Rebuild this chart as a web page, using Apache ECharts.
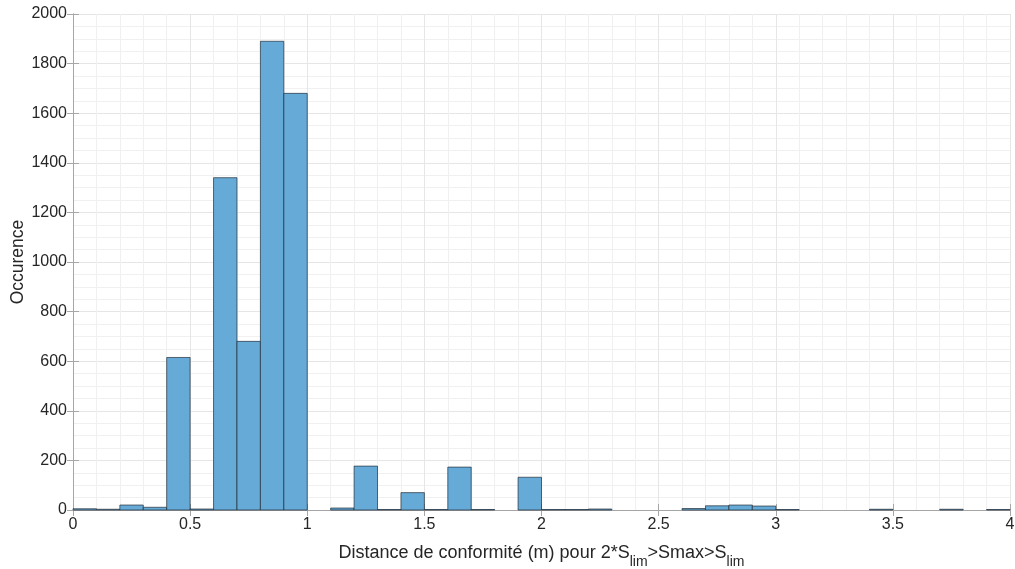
<!DOCTYPE html>
<html><head><meta charset="utf-8">
<script src="https://cdn.jsdelivr.net/npm/echarts@6/dist/echarts.min.js"></script>
<style>html,body{margin:0;padding:0;background:#fff}#c{width:1015px;height:569px}</style>
</head><body><div id="c"></div>
<script>
var binEdges = [0,0.1,0.2,0.3,0.4,0.5,0.6,0.7,0.8,0.9,1.0,1.1,1.2,1.3,1.4,1.5,1.6,1.7,1.8,1.9,2.0,
                2.1,2.2,2.3,2.4,2.5,2.6,2.7,2.8,2.9,3.0,3.1,3.2,3.3,3.4,3.5,3.6,3.7,3.8,3.9,4.0];
var counts = [5,3,20,11,615,4,1340,680,1890,1680,0,8,177,2,70,2,173,2,0,132,2,2,4,0,0,0,6,17,20,16,2,0,0,0,3,0,0,3,0,2];
var xTicks = [0,0.5,1,1.5,2,2.5,3,3.5,4];
var yTicks = [0,200,400,600,800,1000,1200,1400,1600,1800,2000];

var data = counts.map(function(c,i){ return [binEdges[i], binEdges[i+1], c]; });
var chart = echarts.init(document.getElementById('c'));
var font = 'Liberation Sans, Arial, sans-serif';
var axisCol = '#a6a6a6';
var gridCol = '#e6e6e6';
var minorCol = '#f0f0f0';
function fmt(v){ return String(v); }
chart.setOption({
  animation:false,
  grid:{left:73,right:5,top:14,bottom:59,show:false,containLabel:false,outerBoundsMode:'none'},
  xAxis:[{
    type:'value',min:xTicks[0],max:xTicks[xTicks.length-1],interval:0.5,
    axisLine:{show:true,onZero:false,lineStyle:{color:axisCol,width:1}},
    axisTick:{show:true,inside:true,length:6,lineStyle:{color:axisCol}},
    axisLabel:{color:'#262626',fontSize:16,fontFamily:font,margin:7,formatter:fmt},
    splitLine:{show:true,lineStyle:{color:gridCol,width:1}},
    minorTick:{show:false,splitNumber:5},
    minorSplitLine:{show:true,lineStyle:{color:minorCol,width:1}},
    name:'{a|Distance de conformité (m) pour 2*S}{s|lim}{a|>Smax>S}{s|lim}',
    nameLocation:'middle',nameGap:30,nameMoveOverlap:false,
    nameTextStyle:{rich:{
      a:{fontSize:18,fontFamily:font,color:'#262626',verticalAlign:'bottom',lineHeight:22},
      s:{fontSize:14,fontFamily:font,color:'#262626',verticalAlign:'bottom',padding:[0,0,-7,0],lineHeight:22}
    }}
  },{
    type:'value',position:'top',min:xTicks[0],max:xTicks[xTicks.length-1],interval:0.5,
    axisLine:{show:true,lineStyle:{color:axisCol}},
    axisTick:{show:true,inside:true,length:6,lineStyle:{color:axisCol}},
    axisLabel:{show:false},splitLine:{show:false}
  }],
  yAxis:[{
    type:'value',min:yTicks[0],max:yTicks[yTicks.length-1],interval:200,
    axisLine:{show:true,lineStyle:{color:axisCol}},
    axisTick:{show:true,inside:true,length:6,lineStyle:{color:axisCol}},
    axisLabel:{color:'#262626',fontSize:16,fontFamily:font,margin:6,formatter:fmt},
    splitLine:{show:true,lineStyle:{color:gridCol}},
    minorTick:{show:false,splitNumber:4},
    minorSplitLine:{show:true,lineStyle:{color:minorCol}},
    name:'Occurence',nameLocation:'middle',nameGap:45.5,nameMoveOverlap:false,
    nameTextStyle:{fontSize:17.5,fontFamily:font,color:'#262626'}
  },{
    type:'value',position:'right',min:yTicks[0],max:yTicks[yTicks.length-1],interval:200,
    axisLine:{show:true,lineStyle:{color:axisCol}},
    axisTick:{show:true,inside:true,length:6,lineStyle:{color:axisCol}},
    axisLabel:{show:false},splitLine:{show:false}
  }],
  series:[{
    type:'custom',
    xAxisIndex:0,yAxisIndex:0,
    data:data,
    encode:{x:[0,1],y:2},
    renderItem:function(params,api){
      var x0=api.value(0), x1=api.value(1), v=api.value(2);
      if(v<=0) return null;
      var p0=api.coord([x0,v]), p1=api.coord([x1,0]);
      return {type:'rect',shape:{x:p0[0],y:p0[1],width:p1[0]-p0[0],height:p1[1]-p0[1]},
        style:{fill:'#66aad7',stroke:'rgba(30,40,50,0.85)',lineWidth:0.8}};
    }
  }]
});
</script></body></html>
